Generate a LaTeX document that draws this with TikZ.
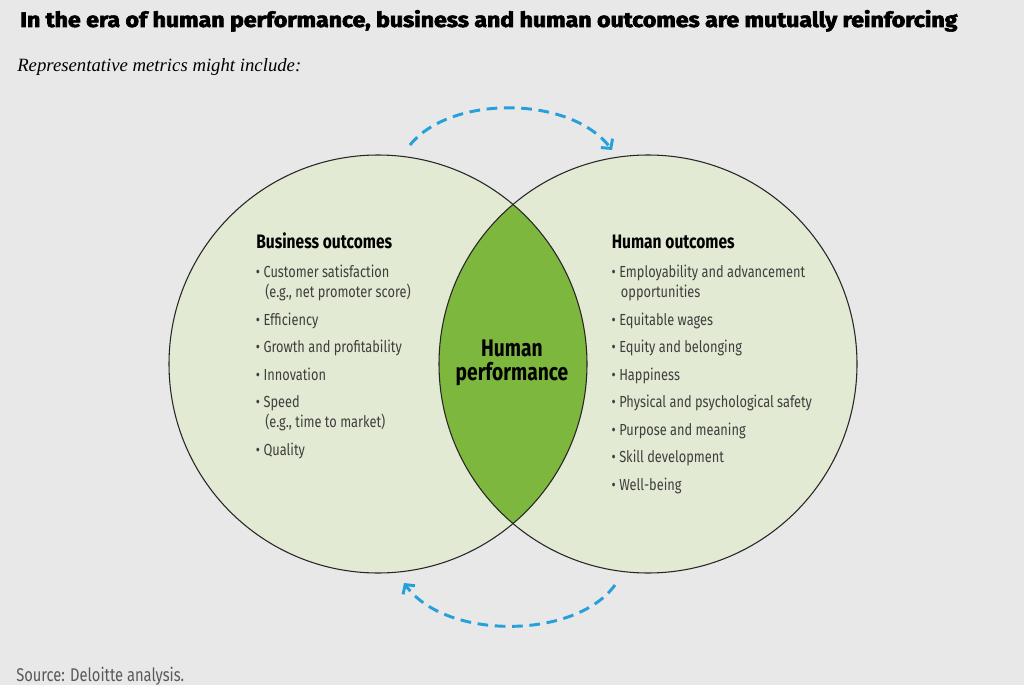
\documentclass[tikz,border=0pt]{standalone}
\usepackage{fontspec}
\setmainfont{Liberation Serif}
\setsansfont[FakeStretch=0.8]{Fira Sans}
\newfontfamily\titlefont{Fira Sans}[UprightFont={* Bold},FakeBold=2.5,FakeStretch=0.8]
\usepackage{tikz}
\usetikzlibrary{arrows.meta}

\definecolor{bgGray}{RGB}{231,232,231}
\definecolor{paleGreen}{RGB}{227,234,211}
\definecolor{perfGreen}{RGB}{125,183,61}
\definecolor{cycleBlue}{RGB}{38,160,218}
\definecolor{metricGray}{RGB}{62,62,62}
\newcommand{\bul}{\llap{\textbullet\hspace{2.6pt}}}

\begin{document}
\begin{tikzpicture}[x=0.75pt,y=-0.75pt]
  \tikzset{outcome/.style = {shape=circle,fill=paleGreen,minimum size=313.5pt,inner sep=0pt}}
  \tikzset{ring/.style = {draw=black!85,line width=0.8pt}}
  \tikzset{cycle/.style = {draw=cycleBlue,line width=2.2pt,dash pattern=on 8pt off 5pt,-{Straight Barb[length=5pt,width=11pt]}}}
  \tikzset{heading/.style = {anchor=base west,inner sep=0pt,font=\sffamily\bfseries\fontsize{14.6}{16}\selectfont}}
  \tikzset{metric/.style = {anchor=base west,inner sep=0pt,text=metricGray,font=\sffamily\fontsize{12}{14}\selectfont}}

  \fill[bgGray] (0,0) rectangle (1024,685);
  \useasboundingbox (0,0) rectangle (1024,685);

  % the two outcome circles and their overlap
  \node[outcome] (B) at (378,364) {};
  \node[outcome] (H) at (648,364) {};
  \begin{scope}
    \clip (B.center) circle[radius=156.75pt];
    \fill[perfGreen] (H.center) circle[radius=156.75pt];
  \end{scope}
  \draw[ring] (B.center) circle[radius=156.75pt];
  \draw[ring] (H.center) circle[radius=156.75pt];

  % texts
  \node[anchor=base west,inner sep=0pt] (title) at (20,27)
    {\resizebox{702.75pt}{12.75pt}{\titlefont In the era of human performance, business and human outcomes are mutually reinforcing}};
  \node[anchor=base west,inner sep=0pt] (sub) at (17,71)
    {\resizebox{213pt}{!}{\itshape Representative metrics might include:}};
  \node[metric,text=black!65,font=\sffamily\fontsize{13.8}{16}\selectfont] (src) at (16,681) {Source: Deloitte analysis.};

  \node[heading] (BH) at (256,248.5) {Business outcomes};
  \node[heading] (HH) at (611.5,248.5) {Human outcomes};
  \node[align=center,inner sep=0pt,font=\sffamily\bfseries\fontsize{18}{18}\selectfont] (P) at (512,363) {Human\\performance};

  \foreach \x/\y/\txt [count=\i] in {263.3/277.5/{\bul Customer satisfaction},
      265/297/{(e.g., net promoter score)}, 263.3/325/{\bul Efficiency},
      263.3/352.5/{\bul Growth and profitability}, 263.3/380/{\bul Innovation},
      263.3/407.5/{\bul Speed}, 265/427/{(e.g., time to market)}, 263.3/455/{\bul Quality}}
    \node[metric] (b\i) at (\x,\y) {\txt};

  \foreach \x/\y/\txt [count=\i] in {619/277.5/{\bul Employability and advancement},
      620.7/297/{opportunities}, 619/325/{\bul Equitable wages},
      619/352.5/{\bul Equity and belonging}, 619/380/{\bul Happiness},
      619/407.5/{\bul Physical and psychological safety}, 619/435/{\bul Purpose and meaning},
      619/462.5/{\bul Skill development}, 619/490/{\bul Well-being}}
    \node[metric] (h\i) at (\x,\y) {\txt};

  % reinforcing loop
  \coordinate (t1) at (410,145);
  \coordinate (t2) at (612,150);
  \coordinate (u1) at (615,585);
  \coordinate (u2) at (404,583);
  \draw[cycle] (t1) .. controls (450,95) and (570,95) .. (t2);
  \draw[cycle] (u1) .. controls (575,640) and (445,640) .. (u2);
\end{tikzpicture}
\end{document}
